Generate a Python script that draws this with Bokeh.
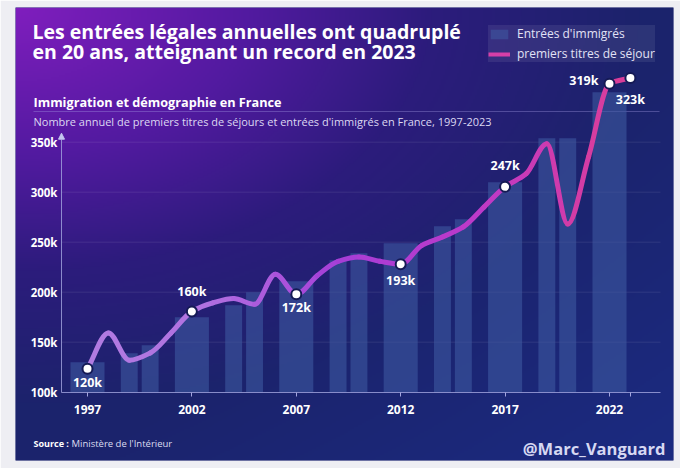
import numpy as np
from bokeh.plotting import figure
from bokeh.models import (Range1d, LinearAxis, FixedTicker, ColumnDataSource, Label,
                          Legend, LegendItem, Arrow, NormalHead)
from bokeh.embed import file_html
from bokeh.resources import INLINE

# ---------------- data (values in thousands) ----------------
bar_years = [1997, 1999, 2000, 2002, 2004, 2005, 2007, 2009, 2010, 2012,
             2014, 2015, 2017, 2019, 2020, 2022]
bar_values = [130, 139, 147, 175, 187, 200, 211, 232, 239, 249,
              266, 273, 310, 354, 354, 400]

line_years = list(range(1997, 2024))
line_values = [120, 145, 126, 131, 145, 160, 166, 169, 165, 186,
               172, 185, 195, 198, 195, 193, 206, 212, 219, 233,
               247, 256, 277, 221, 268, 319, 323]

label_years = [1997, 2002, 2007, 2012, 2017, 2022, 2023]
label_texts = ["120k", "160k", "172k", "193k", "247k", "319k", "323k"]

x_ticks = [1997, 2002, 2007, 2012, 2017, 2022, 2023]
x_tick_labels = ["1997", "2002", "2007", "2012", "2017", "2022", ""]
y_ticks = [100, 150, 200, 250, 300, 350]
y_tick_labels = ["100k", "150k", "200k", "250k", "300k", "350k"]

title_lines = ["Les entrées légales annuelles ont quadruplé",
               "en 20 ans, atteignant un record en 2023"]
subtitle = "Immigration et démographie en France"
caption = "Nombre annuel de premiers titres de séjours et entrées d'immigrés en France, 1997-2023"
bar_name = "Entrées d'immigrés"
line_name = "premiers titres de séjour"

# ---------------- layout ----------------
FONT = "Open Sans"
W, H = 680, 468
BL, BT, BR, BB = 15, 7, 7, 8          # grey page strips around the card
FW, FH = W - BL - BR, H - BT - BB
PX_YEAR = 20.88
X1997 = 87.0 - BL                     # px from frame left
PX_K = 1.0
Y100 = 391.7 - BT                     # px from frame top
PX_K2 = 1.433
Y2_120 = 368.3 - BT

x0 = 1997 - X1997 / PX_YEAR
x1 = x0 + FW / PX_YEAR
y1 = 100 + Y100 / PX_K
y0 = y1 - FH / PX_K
z1 = 120 + Y2_120 / PX_K2
z0 = z1 - FH / PX_K2


def X(px):  # page x -> data x
    return x0 + (px - BL) / PX_YEAR


def Y(py):  # page y -> data y (primary)
    return y1 - (py - BT) / PX_K


p = figure(width=W, height=H, x_range=Range1d(x0, x1), y_range=Range1d(y0, y1),
           x_axis_type=None, y_axis_type=None, toolbar_location=None,
           output_backend="svg", min_border_left=BL, min_border_right=BR,
           min_border_top=BT, min_border_bottom=BB, outline_line_color=None,
           border_fill_color="#eeeef3", background_fill_color="#1e2470")
p.extra_y_ranges = {"titres": Range1d(z0, z1)}

# ---------------- gradient background ----------------
cols, rows = 329, 227
u = (np.arange(cols) + 0.5) / cols * FW
w = (np.arange(rows) + 0.5) / rows * FH
UU, WW = np.meshgrid(u, w)
d = np.sqrt((UU / 520.0) ** 2 + (WW / 330.0) ** 2)
stops_d = [0.0, 0.45, 0.8, 1.2, 2.0]
stops_c = [(128, 30, 190), (82, 26, 160), (44, 28, 124), (28, 35, 108), (27, 38, 112)]
img = np.zeros((rows, cols, 4), dtype=np.uint8)
br = np.clip((UU / FW + WW / FH - 1.1) / 0.8, 0, 1)
for k in range(3):
    ch = np.interp(d, stops_d, [c[k] for c in stops_c])
    ch = ch + br * [0, 5, 16][k]
    img[:, :, k] = np.clip(ch, 0, 255).astype(np.uint8)
img[:, :, 3] = 255
img = np.flipud(img).copy()
img32 = img.view(dtype=np.uint32).reshape((rows, cols))
p.image_rgba(image=[img32], x=x0, y=y0, dw=x1 - x0, dh=y1 - y0, level="image")

# ---------------- grid lines & separator ----------------
gx0, gx1 = X(61), X(660)
p.segment(x0=[gx0] * (len(y_ticks) - 1), y0=y_ticks[1:], x1=[gx1] * (len(y_ticks) - 1),
          y1=y_ticks[1:], line_color="#ffffff", line_alpha=0.09, line_width=1)
p.segment(x0=[X(33)], y0=[Y(111)], x1=[X(659)], y1=[Y(111)],
          line_color="#a8a0e8", line_alpha=0.35, line_width=1)

# ---------------- bars ----------------
bar_w = [1.63 if (yr - 1997) % 5 == 0 else 0.81 for yr in bar_years]
bsrc = ColumnDataSource(dict(x=bar_years, top=bar_values, w=bar_w))
bars = p.vbar(x="x", top="top", bottom=100, width="w", source=bsrc,
              fill_color="#3d58a0", fill_alpha=0.6, line_color=None)

# ---------------- smooth line (monotone cubic drawn as Bezier segments) ----------------
n = len(line_years)
slopes = [(line_values[i + 1] - line_values[i]) / (line_years[i + 1] - line_years[i])
          for i in range(n - 1)]
tang = [slopes[0]]
for i in range(1, n - 1):
    a, b = slopes[i - 1], slopes[i]
    tang.append(0.0 if a * b <= 0 else 2.0 / (1.0 / a + 1.0 / b))
tang.append(slopes[-1])

seg = dict(x0=[], y0=[], x1=[], y1=[], cx0=[], cy0=[], cx1=[], cy1=[], c=[])
col_years = [1997, 2003, 2009, 2016, 2020, 2023]
col_rgb = [(178, 124, 226), (176, 112, 224), (166, 62, 216), (190, 58, 200),
           (210, 60, 170), (218, 62, 150)]
for i in range(n - 1):
    xa, xb = line_years[i], line_years[i + 1]
    ya, yb = line_values[i], line_values[i + 1]
    h = (xb - xa) / 3.0
    seg["x0"].append(xa); seg["y0"].append(ya)
    seg["x1"].append(xb); seg["y1"].append(yb)
    seg["cx0"].append(xa + h); seg["cy0"].append(ya + tang[i] * h)
    seg["cx1"].append(xb - h); seg["cy1"].append(yb - tang[i + 1] * h)
    mid = (xa + xb) / 2.0
    rgb = [int(np.interp(mid, col_years, [c[k] for c in col_rgb])) for k in range(3)]
    seg["c"].append("#%02x%02x%02x" % tuple(rgb))
ssrc = ColumnDataSource(seg)
p.bezier(x0="x0", y0="y0", x1="x1", y1="y1", cx0="cx0", cy0="cy0", cx1="cx1",
         cy1="cy1", line_color="c", line_width=5, line_cap="round",
         source=ssrc, y_range_name="titres")
# legend proxy: a single-point line (draws nothing in the plot)
legend_line = p.line(x=line_years[-1:], y=line_values[-1:], line_color="#d63fa8",
                     line_width=4, y_range_name="titres")

# ---------------- dots & labels ----------------
lv = [line_values[line_years.index(yr)] for yr in label_years]
p.scatter(x=label_years, y=lv, size=10, fill_color="white", line_color="#151a55",
          line_width=2, y_range_name="titres")
offs = {1997: (0, 14, "center"), 2002: (0, -20, "center"), 2007: (0, 13, "center"),
        2012: (0, 16, "center"), 2017: (0, -21, "center"), 2022: (-11, -3, "right"),
        2023: (0, 22, "center")}
for yr, v, t in zip(label_years, lv, label_texts):
    ox, oy, al = offs[yr]
    p.add_layout(Label(x=yr, y=v, y_range_name="titres", text=t, x_offset=ox,
                       y_offset=-oy, text_align=al, text_baseline="middle",
                       text_font=FONT, text_font_style="bold", text_font_size="12.5px",
                       text_color="white"))

# ---------------- axes ----------------
yax = LinearAxis(ticker=FixedTicker(ticks=y_ticks), fixed_location=X(61), bounds=(100, 355),
                 major_label_overrides={t: l for t, l in zip(y_ticks, y_tick_labels)},
                 axis_line_color="#a4a6e0", axis_line_alpha=0.8, major_tick_out=0,
                 major_tick_in=0, minor_tick_out=0, minor_tick_in=0,
                 major_label_standoff=4, major_label_text_color="white",
                 major_label_text_font=FONT, major_label_text_font_style="bold",
                 major_label_text_font_size="11.5px")
p.add_layout(yax, "left")
p.add_layout(Arrow(end=NormalHead(size=6, fill_color="#c4c6f0", line_color="#c4c6f0"),
                   x_start=X(61), y_start=352, x_end=X(61), y_end=359,
                   line_color="#a4a6e0", line_width=1))
xax = LinearAxis(ticker=FixedTicker(ticks=x_ticks), fixed_location=100,
                 bounds=(X(61), X(660)),
                 major_label_overrides={t: l for t, l in zip(x_ticks, x_tick_labels)},
                 axis_line_color="#a4a6e0", axis_line_alpha=0.8, major_tick_out=4,
                 major_tick_in=0, major_tick_line_color="#a4a6e0",
                 minor_tick_out=0, minor_tick_in=0,
                 major_label_standoff=9, major_label_text_color="white",
                 major_label_text_font=FONT, major_label_text_font_style="bold",
                 major_label_text_font_size="12px")
p.add_layout(xax, "below")


# ---------------- texts ----------------
def txt(s, px, py, size, style="normal", color="white", align="left"):
    p.add_layout(Label(x=X(px), y=Y(py), text=s, text_align=align, text_baseline="middle",
                       text_font=FONT, text_font_style=style, text_font_size=size,
                       text_color=color))


txt(title_lines[0], 32, 31, "19.5px", "bold")
txt(title_lines[1], 32, 51, "19.5px", "bold")
txt(subtitle, 33, 101, "12.7px", "bold")
txt(caption, 33, 121, "11px", "normal", "#dcd8f2")
txt("Source :", 33, 443, "9px", "bold")
txt("Ministère de l'Intérieur", 71, 443, "9.5px", "normal", "#dcdcf0")
txt("@Marc_Vanguard", 665, 448, "16.5px", "bold", "#d6d8f2", "right")

# ---------------- legend ----------------
legend = Legend(items=[LegendItem(label=bar_name, renderers=[bars]),
                       LegendItem(label=line_name, renderers=[legend_line])],
                location=(473, 398), background_fill_color="#ffffff",
                background_fill_alpha=0.08, border_line_color=None, padding=6,
                spacing=3, margin=0, glyph_width=22, glyph_height=12, label_height=15,
                label_standoff=7, label_text_font=FONT, label_text_font_size="12px",
                label_text_color="#e2e2f6")
p.add_layout(legend)

open("out.html", "w").write(file_html(p, INLINE))
